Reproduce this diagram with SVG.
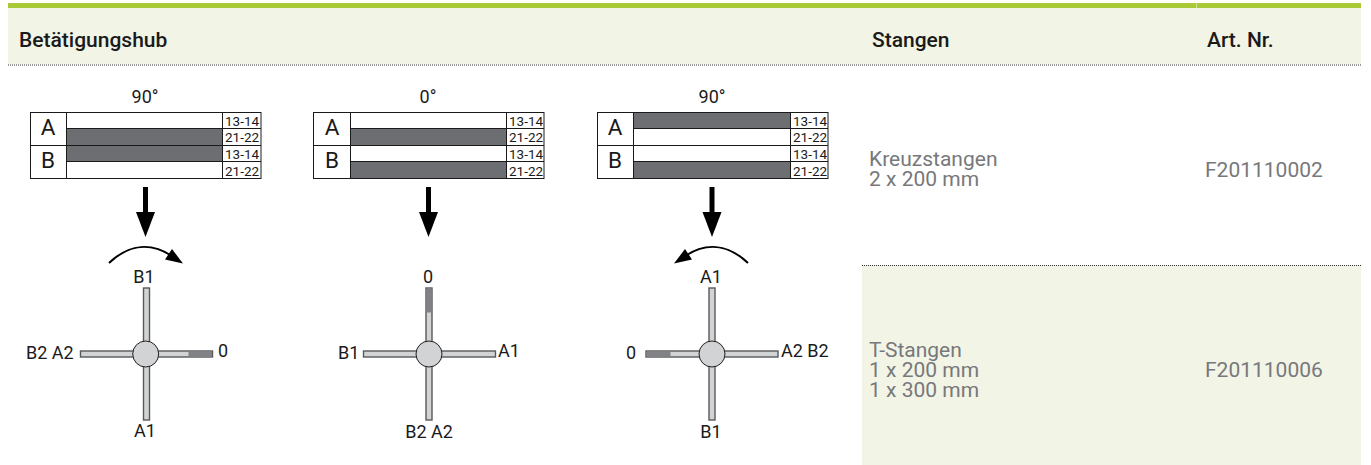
<svg xmlns="http://www.w3.org/2000/svg" width="1371" height="465" viewBox="0 0 1371 465">
<defs>
<style>
text{font-family:Roboto,"Liberation Sans",sans-serif}
.h{font-size:21px;font-weight:500;fill:#1a1a1a}
.c{font-size:21px;fill:#77787b}
.l{font-size:18px;fill:#1a1a1a}
.ab{font-size:22.500px;fill:#1a1a1a;text-anchor:middle}
.n{font-size:13.500px;fill:#1a1a1a}
.m{text-anchor:middle}
.t{fill:#fff;stroke:#1a1a1a;stroke-width:1}
.d{fill:#6d6e71;stroke:#1a1a1a;stroke-width:1}
.arm{fill:#d1d3d4;stroke:#58595b;stroke-width:1.4}
.hub{fill:#d1d3d4;stroke:#231f20;stroke-width:1}
.dk{fill:#808285}
.dot{stroke:#333;stroke-width:1;stroke-dasharray:1 1;fill:none}
.cn{fill:none;stroke:#000;stroke-width:5}
.cv{fill:none;stroke:#000;stroke-width:2}
</style>
</defs>
<rect width="1371" height="465" fill="#fff"/>
<g id="header">
<rect x="8" y="3" width="1353" height="61" fill="#f2f4e6"/>
<rect x="8" y="3" width="1353" height="5" fill="#a9c937"/>
<rect x="1196" y="3" width="1" height="5" fill="#d4e39b"/>
<path class="dot" d="M8 65H1361"/>
<text class="h" x="19" y="47">Betätigungshub</text>
<text class="h" x="872" y="47">Stangen</text>
<text class="h" x="1207" y="47">Art. Nr.</text>
</g>
<g id="row1">
<text class="c" x="869" y="166">Kreuzstangen</text>
<text class="c" x="869" y="186">2 x 200 mm</text>
<text class="c" x="1205" y="177">F201110002</text>
</g>
<g id="row2">
<rect x="862" y="265" width="499" height="200" fill="#f2f4e6"/>
<path class="dot" d="M862 265.500H1361"/>
<text class="c" x="869" y="357">T-Stangen</text>
<text class="c" x="869" y="377">1 x 200 mm</text>
<text class="c" x="869" y="397">1 x 300 mm</text>
<text class="c" x="1205" y="377">F201110006</text>
</g>
<g id="table1">
<text class="l m" x="145" y="103">90°</text>
<rect class="t" x="30.500" y="112.500" width="230.500" height="66"/>
<rect class="d" x="66.500" y="128.500" width="156" height="33"/>
<path class="t" d="M30.500 145.500H66.500M66.500 112.500V178.500M222.500 112.500V178.500M222.500 128.500H261M222.500 145.500H261M222.500 161.500H261M66.500 145.500H222.500"/>
<text class="ab" x="48" y="135">A</text><text class="ab" x="48" y="168">B</text>
<text class="n" x="225" y="126">13-14</text><text class="n" x="225" y="142">21-22</text><text class="n" x="225" y="158.500">13-14</text><text class="n" x="225" y="175.500">21-22</text>
</g>
<g id="table2">
<text class="l m" x="428" y="103">0°</text>
<rect class="t" x="313.500" y="112.500" width="230.500" height="66"/>
<rect class="d" x="350.500" y="128.500" width="156" height="17"/>
<rect class="d" x="350.500" y="161.500" width="156" height="17"/>
<path class="t" d="M313.500 145.500H350.500M350.500 112.500V178.500M506.500 112.500V178.500M506.500 128.500H544M506.500 145.500H544M506.500 161.500H544M350.500 145.500H506.500"/>
<text class="ab" x="332" y="135">A</text><text class="ab" x="332" y="168">B</text>
<text class="n" x="509" y="126">13-14</text><text class="n" x="509" y="142">21-22</text><text class="n" x="509" y="158.500">13-14</text><text class="n" x="509" y="175.500">21-22</text>
</g>
<g id="table3">
<text class="l m" x="712" y="103">90°</text>
<rect class="t" x="597.500" y="112.500" width="230.500" height="66"/>
<rect class="d" x="633.500" y="112.500" width="157" height="16"/>
<rect class="d" x="633.500" y="161.500" width="157" height="17"/>
<path class="t" d="M597.500 145.500H633.500M633.500 112.500V178.500M790.500 112.500V178.500M790.500 128.500H828M790.500 145.500H828M790.500 161.500H828M633.500 145.500H790.500"/>
<text class="ab" x="615" y="135">A</text><text class="ab" x="615" y="168">B</text>
<text class="n" x="793" y="126">13-14</text><text class="n" x="793" y="142">21-22</text><text class="n" x="793" y="158.500">13-14</text><text class="n" x="793" y="175.500">21-22</text>
</g>
<g id="connectors">
<path class="cn" d="M145.500 187V214"/><path d="M136 212H155L145.500 237Z"/>
<path class="cn" d="M428.500 187V214"/><path d="M419 212H438L428.500 237Z"/>
<path class="cn" d="M712 187V214"/><path d="M702.500 212H721.500L712 237Z"/>
<path class="cv" d="M109 263C130 243 152 243 172 256"/>
<path d="M183 263.500L165 259.500L172 249Z"/>
<path class="cv" d="M748 263C727 243 705 243 685 256"/>
<path d="M674 263.500L692 259.500L685 249Z"/>
</g>
<g id="cross1">
<rect class="arm" x="143.500" y="288" width="6" height="132"/>
<rect class="arm" x="80.500" y="351" width="132" height="6"/>
<rect class="dk" x="188.500" y="351.500" width="23.500" height="5"/>
<circle class="hub" cx="145.700" cy="354" r="13"/>
<text class="l m" x="144" y="283">B1</text><text class="l m" x="145" y="437">A1</text>
<text class="l" x="26" y="359">B2 A2</text><text class="l" x="218" y="357">0</text>
</g>
<g id="cross2">
<rect class="arm" x="426" y="288" width="6" height="132"/>
<rect class="dk" x="426.500" y="288.500" width="5" height="24"/>
<rect class="arm" x="363.500" y="351" width="132" height="6"/>
<circle class="hub" cx="429" cy="354" r="13"/>
<text class="l m" x="428" y="283">0</text><text class="l m" x="429" y="438">B2 A2</text>
<text class="l" x="338" y="359">B1</text><text class="l" x="498" y="357">A1</text>
</g>
<g id="cross3">
<rect class="arm" x="709" y="288" width="6" height="132"/>
<rect class="arm" x="646" y="351" width="132" height="6"/>
<rect class="dk" x="646.500" y="351.500" width="24" height="5"/>
<circle class="hub" cx="712" cy="354" r="13"/>
<text class="l m" x="711" y="283">A1</text><text class="l m" x="711" y="438">B1</text>
<text class="l" x="626" y="359">0</text><text class="l" x="781" y="357">A2 B2</text>
</g>
</svg>
